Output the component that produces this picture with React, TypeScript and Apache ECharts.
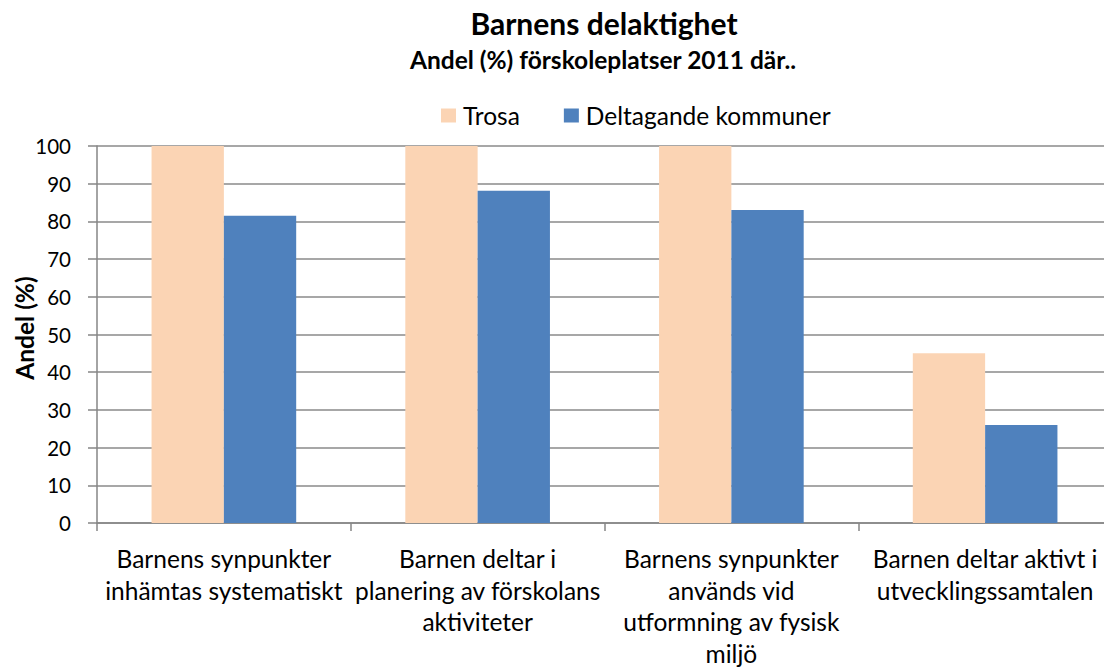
import React, { useEffect, useRef } from "react";
import * as echarts from "echarts";

const categories = [
  "Barnens synpunkter\ninhämtas systematiskt",
  "Barnen deltar i\nplanering av förskolans\naktiviteter",
  "Barnens synpunkter\nanvänds vid\nutformning av fysisk\nmiljö",
  "Barnen deltar aktivt i\nutvecklingssamtalen",
];
const trosa = [100, 100, 100, 45];
const deltagande = [81.5, 88.1, 83, 26];
const seriesNames = ["Trosa", "Deltagande kommuner"];
const titleText = "Barnens delaktighet";
const subtitleText = "Andel (%) förskoleplatser 2011 där..";
const yAxisName = "Andel (%)";

const FONT = "Lato, 'Open Sans', sans-serif";

export default function App() {
  const ref = useRef<HTMLDivElement>(null);
  useEffect(() => {
    const chart = echarts.init(ref.current!, null, { renderer: "svg" });
    chart.setOption({
      animation: false,
      backgroundColor: "#ffffff",
      textStyle: { fontFamily: FONT, color: "#000" },
      title: [
        {
          text: titleText,
          left: 599,
          top: 3,
          textAlign: "center",
          textStyle: { fontFamily: FONT, fontSize: 30, fontWeight: "bold", color: "#000" },
        },
        {
          text: subtitleText,
          left: 598,
          top: 42,
          textAlign: "center",
          textStyle: { fontFamily: FONT, fontSize: 24.5, fontWeight: "bold", color: "#000" },
        },
      ],
      legend: {
        left: 436,
        top: 98,
        itemWidth: 15,
        itemHeight: 14,
        itemGap: 44,
        icon: "rect",
        textStyle: { fontFamily: FONT, fontSize: 24.5, color: "#000", padding: [0, 0, 0, 2] },
        data: seriesNames,
      },
      graphic: [
        {
          type: "text",
          x: 24,
          y: 328,
          rotation: Math.PI / 2,
          style: {
            text: yAxisName,
            fontFamily: FONT,
            fontSize: 24.5,
            fontWeight: "bold",
            fill: "#000",
            textAlign: "center",
            textVerticalAlign: "middle",
          },
        },
      ],
      grid: {
        left: 97,
        top: 146,
        width: 1015,
        height: 377,
        containLabel: false,
        outerBoundsMode: "none",
      },
      xAxis: {
        type: "category",
        data: categories,
        axisLine: { lineStyle: { color: "#868686", width: 1.5 } },
        axisTick: { show: true, length: 8, lineStyle: { color: "#868686", width: 1.5 } },
        axisLabel: {
          interval: 0,
          margin: 20,
          fontFamily: FONT,
          fontSize: 24.5,
          lineHeight: 31.5,
          color: "#000",
          align: "center",
        },
      },
      yAxis: {
        type: "value",
        min: 0,
        max: 100,
        interval: 10,
        axisLine: { show: true, lineStyle: { color: "#868686", width: 1.5 } },
        axisTick: { show: true, length: 9, lineStyle: { color: "#868686", width: 1.5 } },
        axisLabel: { fontFamily: FONT, fontSize: 20.5, color: "#000", margin: 26 },
        splitLine: { lineStyle: { color: "#8a8a8a", width: 1.5 } },
      },
      series: [
        {
          name: seriesNames[0],
          type: "bar",
          data: trosa,
          barGap: "0%",
          barCategoryGap: "43%",
          itemStyle: { color: "#FBD4B4" },
        },
        {
          name: seriesNames[1],
          type: "bar",
          data: deltagande,
          itemStyle: { color: "#4F81BD" },
        },
      ],
    });
    return () => chart.dispose();
  }, []);
  return (
    <div
      ref={ref}
      style={{ position: "fixed", left: 0, top: 0, width: 1104, height: 669, background: "#fff" }}
    />
  );
}
